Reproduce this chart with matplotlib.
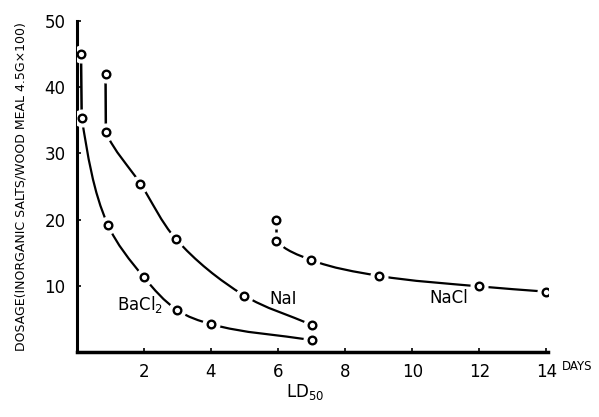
import numpy as np
import matplotlib
matplotlib.use("Agg")
import matplotlib.pyplot as plt
from matplotlib.path import Path
from matplotlib.patches import PathPatch

plt.rcParams['font.family'] = ['Liberation Sans Narrow', 'DejaVu Sans']

# LD50 data (days, dosage)
bacl2_x = [0.13, 0.15, 0.93, 2.0, 3.0, 4.0, 7.0]
bacl2_y = [45.0, 35.3, 19.2, 11.3, 6.3, 4.2, 1.8]
nai_x = [0.86, 0.87, 1.9, 2.95, 5.0, 7.0]
nai_y = [42.0, 33.2, 25.4, 17.1, 8.5, 4.1]
nacl_x = [5.95, 5.95, 6.98, 9.0, 12.0, 14.0]
nacl_y = [20.0, 16.8, 13.9, 11.5, 9.9, 9.1]

xticks = [2, 4, 6, 8, 10, 12, 14]
yticks = [10, 20, 30, 40, 50]

SX, SY = 33.7, 6.62   # rough px per data unit, used only to shape the curves

def unit(v):
    return v / np.hypot(*v)

def smooth_path(xs, ys):
    """Smooth bezier through points 1..n (bisector tangents); point 0 only bends the start."""
    P = np.column_stack([np.asarray(xs) * SX, np.asarray(ys) * SY])
    n = len(P)
    tang = [None]
    for i in range(1, n):
        d_in = unit(P[i] - P[i-1])
        d_out = unit(P[i+1] - P[i]) if i + 1 < n else d_in
        w = 2.0 if i == 1 else 1.0          # start mostly follows the first chord
        tang.append(unit(d_in + w * d_out))
    verts = [P[1]]; codes = [Path.MOVETO]
    for i in range(1, n - 1):
        L = np.hypot(*(P[i+1] - P[i])) / 3.0
        verts += [P[i] + tang[i] * L, P[i+1] - tang[i+1] * L, P[i+1]]
        codes += [Path.CURVE4] * 3
    V = np.array(verts) / [SX, SY]
    return Path(V, codes)

fig = plt.figure(figsize=(5.99, 4.17), dpi=100)
ax = fig.add_axes([0.128, 0.156, 0.787, 0.794])
ax.set_xlim(0, 14.05)
ax.set_ylim(0, 50)

for xs, ys in [(bacl2_x, bacl2_y), (nai_x, nai_y), (nacl_x, nacl_y)]:
    ax.plot(xs[:2], ys[:2], color='black', lw=1.8, zorder=2)
    ax.add_patch(PathPatch(smooth_path(xs, ys), fill=False, lw=1.6,
                           edgecolor='black', zorder=2))
    ax.plot(xs, ys, ls='none', marker='o', ms=12, mfc='white', mec='white', zorder=3)
    ax.plot(xs, ys, ls='none', marker='o', ms=5.5, mfc='white', mec='black', mew=1.7, zorder=4)

ax.text(1.2, 7.2, 'BaCl$_2$', fontsize=12, va='center')
ax.text(5.75, 8.0, 'NaI', fontsize=12, va='center')
ax.text(10.5, 8.2, 'NaCl', fontsize=12, va='center')

for s in ['top', 'right']:
    ax.spines[s].set_visible(False)
ax.spines['left'].set_linewidth(2.2)
ax.spines['bottom'].set_linewidth(2.5)
ax.set_xticks(xticks)
ax.set_yticks(yticks)
ax.set_xticklabels([str(t) for t in xticks], fontsize=12)
ax.set_yticklabels([str(t) for t in yticks], fontsize=12)
ax.tick_params(direction='in', length=3, width=1.2, pad=8)

ax.text(14.45, -1.2, 'DAYS', fontsize=8.5, va='top', ha='left', clip_on=False)
fig.text(0.51, 0.035, 'LD$_{50}$', fontsize=12, ha='center', va='bottom')
ax.set_ylabel('DOSAGE(INORGANIC SALTS/WOOD MEAL 4.5G×100)', fontsize=9, labelpad=12)

fig.savefig('out.png', dpi=100)
